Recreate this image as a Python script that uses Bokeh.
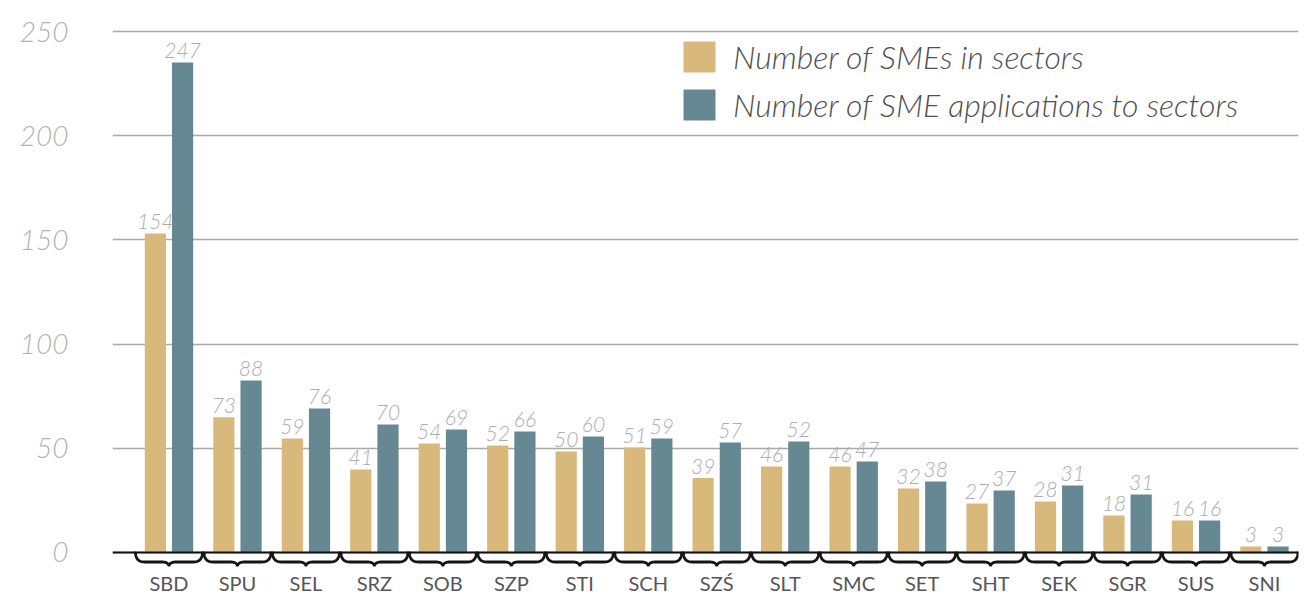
import numpy as np
from bokeh.plotting import figure
from bokeh.models import ColumnDataSource, Legend, LegendItem, FixedTicker, Span, Range1d
from bokeh.core.properties import value
from bokeh.transform import dodge
from bokeh.embed import file_html
from bokeh.resources import INLINE

# ---------------- data ----------------
sectors = ["SBD", "SPU", "SEL", "SRZ", "SOB", "SZP", "STI", "SCH", "SZŚ",
           "SLT", "SMC", "SET", "SHT", "SEK", "SGR", "SUS", "SNI"]
# values printed above the bars
smes_label = [154, 73, 59, 41, 54, 52, 50, 51, 39, 46, 46, 32, 27, 28, 18, 16, 3]
apps_label = [247, 88, 76, 70, 69, 66, 60, 59, 57, 52, 47, 38, 37, 31, 31, 16, 3]
# bar heights as drawn in the picture
smes_bar = [153.1, 64.9, 54.7, 39.8, 52.3, 51.3, 48.5, 50.4, 35.7, 41.3, 41.3,
            30.7, 23.5, 24.5, 17.8, 15.4, 2.9]
apps_bar = [235.1, 82.5, 69.1, 61.4, 59.0, 58.1, 55.7, 54.7, 52.8, 53.3, 43.7,
            34.1, 29.8, 32.2, 27.8, 15.4, 2.9]
y_ticks = [0, 50, 100, 150, 200, 250]
series_names = ["Number of SMEs in sectors", "Number of SME applications to sectors"]

GOLD = "#D9B87C"
BLUE = "#668893"

idx = list(range(len(sectors)))
src = ColumnDataSource(dict(
    x=idx,
    smes=smes_bar, apps=apps_bar,
    smes_txt=[str(v) for v in smes_label],
    apps_txt=[str(v) for v in apps_label],
))

# pixel geometry helpers (group pitch and vertical scale)
PX_X = 68.47   # px per group
PX_Y = 2.084   # px per unit

p = figure(width=1316, height=597, output_backend="svg", toolbar_location=None,
           x_range=Range1d(-0.825, 16.497), y_range=Range1d(-6.72, 253.36),
           min_border_left=112, min_border_right=18, min_border_top=24,
           min_border_bottom=31)
p.outline_line_color = None
p.background_fill_color = "white"
p.border_fill_color = "white"

# grid
p.xgrid.visible = False
p.ygrid.ticker = FixedTicker(ticks=y_ticks)
p.ygrid.grid_line_color = "#a9a9a9"
p.ygrid.grid_line_width = 1.6

# y axis
p.yaxis.ticker = FixedTicker(ticks=y_ticks)
p.yaxis.axis_line_color = None
p.yaxis.major_tick_line_color = None
p.yaxis.minor_tick_line_color = None
p.yaxis.major_label_standoff = 38
p.yaxis.major_label_text_font = "Lato Light"
p.yaxis.major_label_text_font_style = "italic"
p.yaxis.major_label_text_font_size = "28px"
p.yaxis.major_label_text_color = "#b3b3b3"

# x axis
p.xaxis.ticker = FixedTicker(ticks=idx)
p.xaxis.major_label_overrides = {i: s for i, s in enumerate(sectors)}
p.xaxis.axis_line_color = None
p.xaxis.major_tick_line_color = None
p.xaxis.minor_tick_line_color = None
p.xaxis.major_tick_out = 0
p.xaxis.major_tick_in = 0
p.xaxis.major_label_standoff = 4
p.xaxis.major_label_text_line_height = 1.0
p.xaxis.major_label_text_font = "Lato"
p.xaxis.major_label_text_font_size = "20px"
p.xaxis.major_label_text_color = "#555555"

# bars
off = 13.6 / PX_X
bw = 21.2 / PX_X
r1 = p.vbar(x=dodge("x", -off), top="smes", width=bw, bottom=0, source=src,
            fill_color=GOLD, line_color=None)
r2 = p.vbar(x=dodge("x", off), top="apps", width=bw, bottom=0, source=src,
            fill_color=BLUE, line_color=None)

# value labels
for xo, col, txt in [(-off, "smes", "smes_txt"), (off, "apps", "apps_txt")]:
    p.text(x=dodge("x", xo), y=col, text=txt, source=src,
           text_align="center", text_baseline="alphabetic", y_offset=-12,
           text_font=value("Lato Light"), text_font_style="italic",
           text_font_size="21px", text_color="#adadad")

# baseline
p.add_layout(Span(location=0, dimension="width", line_color="#111111", line_width=2))

# curly braces under each group
def quad(p0, c, p1, n=14):
    t = np.linspace(0, 1, n)
    x = (1 - t) ** 2 * p0[0] + 2 * (1 - t) * t * c[0] + t ** 2 * p1[0]
    y = (1 - t) ** 2 * p0[1] + 2 * (1 - t) * t * c[1] + t ** 2 * p1[1]
    return x, y

# brace shape in pixels relative to (group centre, baseline): +y is downwards
hw = 33.5
a = quad((-hw, 0.5), (-hw + 0.5, 9.5), (-hw + 9, 9.5))
b = quad((-7, 9.5), (-1, 9.5), (0, 13.3))
bx = np.concatenate([a[0], b[0]])
by = np.concatenate([a[1], b[1]])
shape_x = np.concatenate([bx, -bx[::-1]])
shape_y = np.concatenate([by, by[::-1]])

xs, ys = [], []
for i in idx:
    xs.append(list(i + shape_x / PX_X))
    ys.append(list(-shape_y / PX_Y))
p.multi_line(xs=xs, ys=ys, line_color="#151515", line_width=2.8,
             line_join="round", line_cap="round")

# legend
legend = Legend(items=[LegendItem(label=series_names[0], renderers=[r1]),
                       LegendItem(label=series_names[1], renderers=[r2])],
                location=(567, 442), orientation="vertical",
                glyph_width=40, glyph_height=39, label_standoff=14,
                label_height=31, spacing=9, padding=0, margin=0,
                border_line_color=None, background_fill_alpha=0,
                label_text_font="Lato Light", label_text_font_style="italic",
                label_text_font_size="32px", label_text_color="#505050")
p.add_layout(legend)

open("out.html", "w").write(file_html(p, INLINE))
